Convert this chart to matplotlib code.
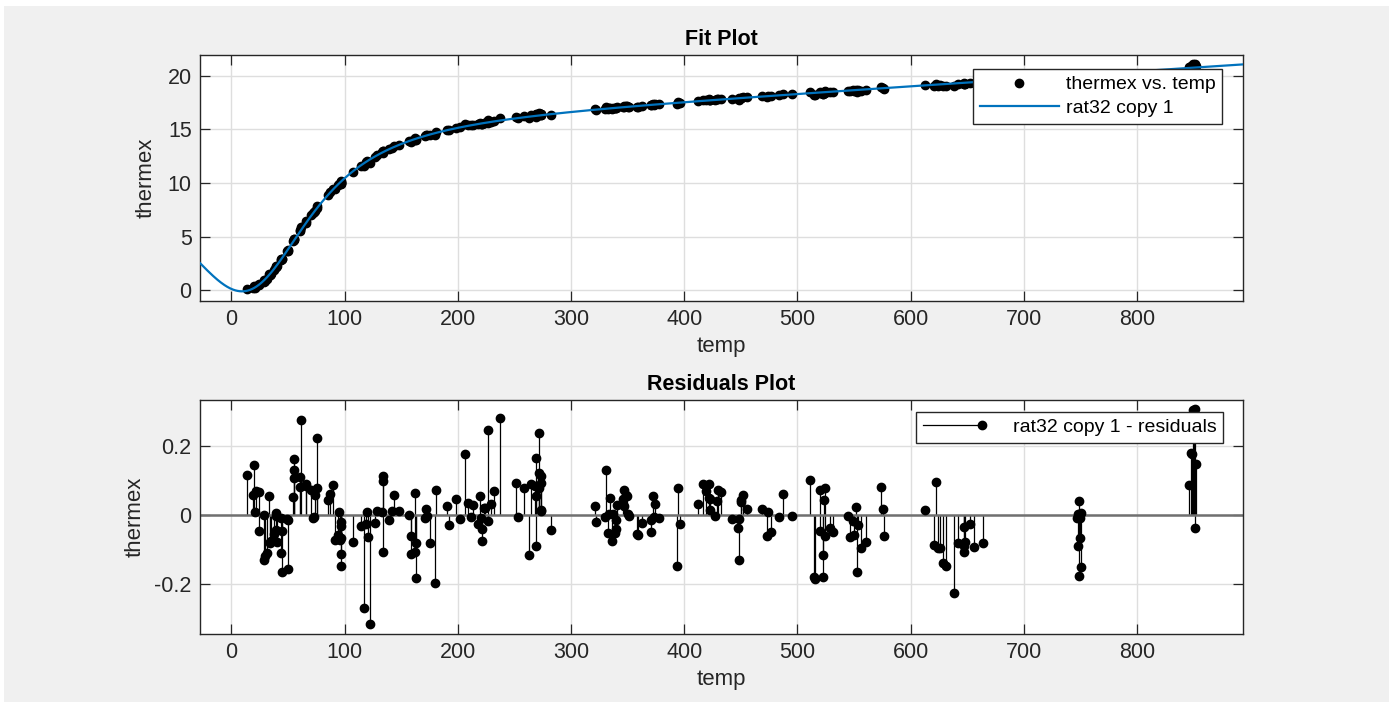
import numpy as np
import matplotlib
matplotlib.use("Agg")
import matplotlib.pyplot as plt
from matplotlib.lines import Line2D
from matplotlib.legend_handler import HandlerBase
from matplotlib.patches import Rectangle

plt.rcParams['font.family'] = ['Liberation Sans', 'DejaVu Sans']

# ---------------- data (hahn1: temp vs thermex) ----------------
temp = [24.41, 34.82, 44.09, 45.07, 54.98, 65.51, 70.53, 75.70, 89.57, 91.14,
        96.40, 97.19, 114.26, 120.25, 127.08, 133.55, 133.61, 158.67, 172.74, 171.31,
        202.14, 220.55, 221.05, 221.39, 250.99, 268.99, 271.80, 271.97, 321.31, 321.69,
        330.14, 333.03, 333.47, 340.77, 345.65, 373.11, 373.79, 411.82, 419.51, 421.59,
        422.02, 422.47, 422.61, 441.75, 447.41, 448.7, 472.89, 476.69, 522.47, 522.62,
        524.43, 546.75, 549.53, 575.29, 576.00, 625.55, 20.15, 28.78, 29.57, 37.41,
        39.12, 50.24, 61.38, 66.25, 73.42, 95.52, 107.32, 122.04, 134.03, 163.19,
        163.48, 175.70, 179.86, 211.27, 217.78, 219.14, 262.52, 268.01, 268.62, 336.25,
        337.23, 339.33, 427.38, 428.58, 432.68, 528.99, 531.08, 628.34, 253.24, 273.13,
        273.66, 282.10, 346.62, 347.19, 348.78, 351.18, 450.10, 450.35, 451.92, 455.56,
        552.22, 553.56, 555.74, 652.59, 656.20, 14.13, 20.41, 31.30, 33.84, 39.70,
        48.83, 54.50, 60.41, 72.77, 75.25, 86.84, 94.88, 96.40, 117.37, 139.08,
        147.73, 158.63, 161.84, 192.11, 206.76, 209.07, 213.32, 226.44, 237.12, 330.90,
        358.72, 370.77, 372.72, 396.24, 416.59, 484.02, 495.47, 514.78, 515.65, 519.47,
        544.47, 560.11, 620.77, 18.97, 28.93, 33.91, 40.03, 44.66, 49.87, 55.16,
        60.90, 72.08, 85.15, 97.06, 119.63, 133.27, 143.84, 161.91, 180.67, 198.44,
        226.86, 229.65, 258.27, 273.77, 339.15, 350.13, 362.75, 371.03, 393.32, 448.53,
        473.78, 511.12, 524.70, 548.75, 551.64, 574.02, 623.86, 21.46, 24.33, 33.43,
        39.22, 44.18, 55.02, 94.33, 96.44, 118.82, 128.48, 141.94, 156.92, 171.65,
        190.00, 223.26, 223.88, 231.50, 265.05, 269.44, 271.78, 273.46, 334.61, 339.79,
        349.52, 358.18, 377.98, 394.77, 429.66, 468.22, 487.27, 519.54, 523.03, 612.99,
        638.59, 641.36, 622.05, 631.50, 663.97, 646.9, 748.29, 749.21, 750.14, 647.04,
        646.89, 746.9, 748.43, 747.35, 749.27, 647.61, 747.78, 750.51, 851.37, 845.97,
        847.54, 849.93, 851.61, 849.75, 850.98, 848.23]

thermex = [0.591, 1.547, 2.902, 2.894, 4.703, 6.307, 7.03, 7.898, 9.470, 9.484,
           10.072, 10.163, 11.615, 12.005, 12.478, 12.982, 12.970, 13.926, 14.452, 14.404,
           15.190, 15.550, 15.528, 15.499, 16.131, 16.438, 16.387, 16.549, 16.872, 16.830,
           16.926, 16.907, 16.966, 17.060, 17.122, 17.311, 17.355, 17.668, 17.767, 17.803,
           17.765, 17.768, 17.736, 17.858, 17.877, 17.912, 18.046, 18.085, 18.291, 18.357,
           18.426, 18.584, 18.610, 18.870, 18.795, 19.111, 0.367, 0.796, 0.892, 1.903,
           2.150, 3.697, 5.870, 6.421, 7.422, 9.944, 11.023, 11.87, 12.786, 14.067,
           13.974, 14.462, 14.464, 15.381, 15.483, 15.59, 16.075, 16.347, 16.181, 16.915,
           17.003, 16.978, 17.756, 17.808, 17.868, 18.481, 18.486, 19.090, 16.062, 16.337,
           16.345, 16.388, 17.159, 17.116, 17.164, 17.123, 17.979, 17.974, 18.007, 17.993,
           18.523, 18.669, 18.617, 19.371, 19.330, 0.080, 0.248, 1.089, 1.418, 2.278,
           3.624, 4.574, 5.556, 7.267, 7.695, 9.136, 9.959, 9.957, 11.600, 13.138,
           13.564, 13.871, 13.994, 14.947, 15.473, 15.379, 15.455, 15.908, 16.114, 17.071,
           17.135, 17.282, 17.368, 17.483, 17.764, 18.185, 18.271, 18.236, 18.237, 18.523,
           18.627, 18.665, 19.086, 0.214, 0.943, 1.429, 2.241, 2.951, 3.782, 4.757,
           5.602, 7.169, 8.920, 10.055, 12.035, 12.861, 13.436, 14.167, 14.755, 15.168,
           15.651, 15.746, 16.216, 16.445, 16.965, 17.121, 17.206, 17.250, 17.339, 17.793,
           18.123, 18.49, 18.566, 18.645, 18.706, 18.924, 19.1, 0.375, 0.471, 1.504,
           2.204, 2.813, 4.765, 9.835, 10.040, 11.946, 12.596, 13.303, 13.922, 14.440,
           14.951, 15.627, 15.639, 15.814, 16.315, 16.334, 16.430, 16.423, 17.024, 17.009,
           17.165, 17.134, 17.349, 17.576, 17.848, 18.090, 18.276, 18.404, 18.519, 19.133,
           19.074, 19.239, 19.280, 19.101, 19.398, 19.252, 19.89, 20.007, 19.929, 19.268,
           19.324, 20.049, 20.107, 20.062, 20.065, 19.286, 19.972, 20.088, 20.743, 20.83,
           20.935, 21.035, 20.93, 21.074, 21.085, 20.935]

x_ticks = [0, 100, 200, 300, 400, 500, 600, 700, 800]
fit_y_ticks = [0, 5, 10, 15, 20]
res_y_ticks = [-0.2, 0, 0.2]
res_y_ticklabels = ['-0.2', '0', '0.2']

fit_title = 'Fit Plot'
res_title = 'Residuals Plot'
data_label = 'thermex vs. temp'
fit_label = 'rat32 copy 1'
res_label = 'rat32 copy 1 - residuals'

x_limits = (-27.74, 893.49)
fit_ylim = (-1.0, 21.95)
res_ylim = (-0.345, 0.333)

# ---------------- rat32 least-squares fit ----------------
xa = np.asarray(temp, float)
ya = np.asarray(thermex, float)
sg = np.linspace(x_limits[0], x_limits[1], 2000) / 100.0


def rat32(p, s):
    num = p[0] * s**3 + p[1] * s**2 + p[2] * s + p[3]
    den = s**2 + p[4] * s + p[5]
    return num / den


def pole_free(p):
    return np.all(sg**2 + p[4] * sg + p[5] > 1e-6)


def lm(p, s, y):
    lam = 1e-3
    r = y - rat32(p, s)
    sse = r @ r
    for _ in range(800):
        num = p[0] * s**3 + p[1] * s**2 + p[2] * s + p[3]
        den = s**2 + p[4] * s + p[5]
        f = num / den
        J = np.column_stack([s**3 / den, s**2 / den, s / den, 1 / den,
                             -f * s / den, -f / den])
        g = J.T @ r
        Hm = J.T @ J
        ok = False
        for _ in range(40):
            try:
                step = np.linalg.solve(Hm + lam * np.diag(np.diag(Hm)), g)
            except np.linalg.LinAlgError:
                lam *= 8
                continue
            pn = p + step
            if pole_free(pn):
                rn = y - rat32(pn, s)
                ssen = rn @ rn
                if ssen < sse:
                    p, r, sse = pn, rn, ssen
                    lam = max(lam / 5, 1e-12)
                    ok = True
                    break
            lam *= 8
        if not ok:
            break
    return p, sse


def fit_rat32(x, y):
    s = x / 100.0
    best = None
    for c in [-0.5, -0.2, 0.0, 0.2, 0.4, 0.7, 1.0]:
        for rad in [0.1, 0.25, 0.5, 1.0, 2.0]:
            b1, b2 = -2 * c, c * c + rad * rad
            den = s**2 + b1 * s + b2
            A = np.column_stack([s**3, s**2, s, np.ones_like(s)]) / den[:, None]
            a = np.linalg.lstsq(A, y, rcond=None)[0]
            p0 = np.r_[a, b1, b2]
            p, sse = lm(p0, s, y)
            if best is None or sse < best[1]:
                best = (p, sse)
    return best[0]


coef = fit_rat32(xa, ya)
residuals = ya - rat32(coef, xa / 100.0)
xs = np.linspace(x_limits[0], x_limits[1], 1500)
ys = rat32(coef, xs / 100.0)

# ---------------- figure ----------------
W, H = 1389, 702
fig = plt.figure(figsize=(W / 100, H / 100), dpi=100)
fig.patch.set_facecolor('white')
fig.add_artist(Rectangle((4 / W, 0), 1, (H - 6) / H, transform=fig.transFigure,
                         facecolor='#f0f0f0', edgecolor='none', zorder=-10))

ax1 = fig.add_axes([200 / W, (H - 301) / H, 1043 / W, 246 / H])
ax2 = fig.add_axes([200 / W, (H - 634) / H, 1043 / W, 234 / H])

TXT = '#262626'
MS = 6.0


def style(ax):
    ax.set_facecolor('white')
    for sp in ax.spines.values():
        sp.set_color(TXT)
        sp.set_linewidth(1.0)
    ax.tick_params(direction='in', top=True, right=True, length=7, width=0.9,
                   colors=TXT, labelsize=15.5, pad=6)
    ax.grid(True, color='#dedede', lw=1.0)
    ax.set_axisbelow(True)
    ax.set_xlim(*x_limits)
    ax.set_xticks(x_ticks)


style(ax1)
style(ax2)

# fit plot
ax1.plot(xa, ya, ls='none', marker='o', ms=MS, color='black', label=data_label, zorder=3)
ax1.plot(xs, ys, color='#0072BD', lw=1.6, label=fit_label, zorder=4)
ax1.set_ylim(*fit_ylim)
ax1.set_yticks(fit_y_ticks)
ax1.set_title(fit_title, fontsize=15.5, fontweight='bold', pad=7)
ax1.set_xlabel('temp', fontsize=16, color=TXT, labelpad=4)
ax1.set_ylabel('thermex', fontsize=16, color=TXT, labelpad=8)

leg1 = ax1.legend(loc='upper right', bbox_to_anchor=(0.980, 0.943), borderaxespad=0,
                  fontsize=14, handlelength=4.05, handletextpad=0.36, borderpad=0.35,
                  labelspacing=0.3, numpoints=1, fancybox=False, framealpha=1,
                  edgecolor=TXT)
leg1.get_frame().set_linewidth(1.0)

# residuals plot
ax2.vlines(xa, 0, residuals, colors='black', lw=0.9, zorder=2)
ax2.axhline(0, color='#707070', lw=1.8, zorder=2.5)
ax2.plot(xa, residuals, ls='none', marker='o', ms=MS, color='black', zorder=3)
ax2.set_ylim(*res_ylim)
ax2.set_yticks(res_y_ticks)
ax2.set_yticklabels(res_y_ticklabels)
ax2.set_title(res_title, fontsize=15.5, fontweight='bold', pad=7)
ax2.set_xlabel('temp', fontsize=16, color=TXT, labelpad=4)
ax2.set_ylabel('thermex', fontsize=16, color=TXT, labelpad=6)


class StemHandler(HandlerBase):
    def create_artists(self, legend, orig_handle, xdescent, ydescent, width, height,
                       fontsize, trans):
        y = height / 2 - ydescent
        x0 = -xdescent
        ln = Line2D([x0, x0 + 0.72 * width], [y, y], color='black', lw=0.9, transform=trans)
        mk = Line2D([x0 + 0.70 * width], [y], ls='none', marker='o', ms=MS,
                    color='black', transform=trans)
        return [ln, mk]


stem_handle = Line2D([], [], color='black')
leg2 = ax2.legend([stem_handle], [res_label], handler_map={Line2D: StemHandler()},
                  loc='upper right', bbox_to_anchor=(0.981, 0.950), borderaxespad=0,
                  fontsize=14, handlelength=4.3, handletextpad=0.3, borderpad=0.35,
                  fancybox=False, framealpha=1, edgecolor=TXT)
leg2.get_frame().set_linewidth(1.0)

fig.savefig('out.png', dpi=100, facecolor=fig.get_facecolor())
